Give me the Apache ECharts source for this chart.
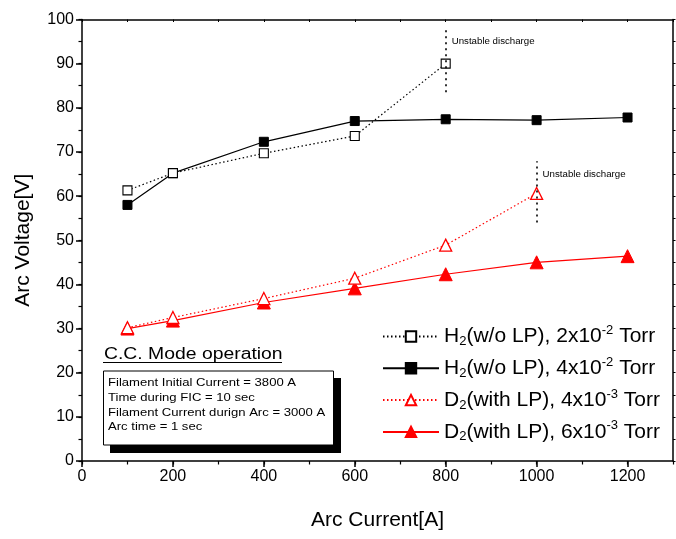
<!DOCTYPE html>
<html>
<head>
<meta charset="utf-8">
<script src="https://cdn.jsdelivr.net/npm/echarts@6/dist/echarts.min.js"></script>
<style>html,body{margin:0;padding:0;background:#fff}#c{width:676px;height:539px}</style>
</head>
<body>
<div id="c"></div>
<script>
// ---- data ----
var xH2a = [100, 200, 400, 600, 800];
var yH2a = [61.3, 65.2, 69.7, 73.6, 90.0];
var xH2b = [100, 200, 400, 600, 800, 1000, 1200];
var yH2b = [58.0, 65.2, 72.3, 77.0, 77.4, 77.2, 77.8];
var xD2a = [100, 200, 400, 600, 800, 1000];
var yD2a = [30.2, 32.5, 36.8, 41.4, 48.9, 60.6];
var xD2b = [100, 200, 400, 600, 800, 1000, 1200];
var yD2b = [30.0, 31.8, 35.9, 39.1, 42.3, 45.0, 46.4];

var seriesNames = [
  'H2(w/o LP), 2x10-2 Torr',
  'H2(w/o LP), 4x10-2 Torr',
  'D2(with LP), 4x10-3 Torr',
  'D2(with LP), 6x10-3 Torr'
];
var legendRichText = [
  '{n|H}{sub|2}{n|(w/o LP), 2x10}{sup|-2}{n| Torr}',
  '{n|H}{sub|2}{n|(w/o LP), 4x10}{sup|-2}{n| Torr}',
  '{n|D}{sub|2}{n|(with LP), 4x10}{sup|-3}{n| Torr}',
  '{n|D}{sub|2}{n|(with LP), 6x10}{sup|-3}{n| Torr}'
];

// "Unstable discharge" annotations
var unstableX = [800, 1000];
var unstableLow = [83.5, 54.0];
var unstableHigh = [97.7, 67.9];
var unstableLabelY = [95.1, 65.0];
var unstableText = 'Unstable discharge';

// info box
var boxTitle = 'C.C. Mode operation';
var boxLines = [
  'Filament Initial Current = 3800 A',
  'Time during FIC = 10 sec',
  'Filament Current durign Arc = 3000 A',
  'Arc time = 1 sec'
];

var xTitle = 'Arc Current[A]';
var yTitle = 'Arc Voltage[V]';
var xMin = 0, xMax = 1300, xMajor = 200, xMinor = 100;
var yMin = 0, yMax = 100, yMajor = 10, yMinor = 5;

// ---- helpers ----
function pairs(xs, ys) { return xs.map(function (x, i) { return [x, ys[i]]; }); }
var FONT = '"Liberation Sans", Arial, sans-serif';

function annotMarkLine(i) {
  return {
    silent: true, symbol: ['none', 'none'],
    lineStyle: { color: '#000', width: 1.6, type: [2, 4] },
    label: { show: false },
    data: [[{ coord: [unstableX[i], unstableLow[i]] }, { coord: [unstableX[i], unstableHigh[i]] }]]
  };
}
function annotMarkPoint(i) {
  return {
    silent: true, symbol: 'circle', symbolSize: 0,
    label: { show: true, position: 'right', distance: 6, formatter: unstableText,
             fontSize: 9.7, fontFamily: FONT, color: '#000' },
    data: [{ coord: [unstableX[i], unstableLabelY[i]] }]
  };
}

var chart = echarts.init(document.getElementById('c'), null, { renderer: 'canvas' });

var gridL = 82, gridT = 19.5, gridR = 3, gridB = 78;

var option = {
  animation: false,
  backgroundColor: '#fff',
  grid: { left: gridL, top: gridT, right: gridR, bottom: gridB, containLabel: false },
  legend: {
    orient: 'vertical', left: 377, top: 319,
    itemWidth: 56, itemHeight: 13, itemGap: 7.8,
    data: seriesNames,
    formatter: function (name) { return legendRichText[seriesNames.indexOf(name)]; },
    textStyle: {
      fontFamily: FONT, fontSize: 21, color: '#000',
      rich: {
        n: { fontFamily: FONT, fontSize: 21, color: '#000' },
        sub: { fontFamily: FONT, fontSize: 13, color: '#000', padding: [10, 0, 0, 0] },
        sup: { fontFamily: FONT, fontSize: 13, color: '#000', padding: [0, 0, 12, 0] }
      }
    }
  },
  xAxis: [
    {
      type: 'value', position: 'bottom', min: xMin, max: xMax, interval: xMajor,
      name: xTitle, nameLocation: 'middle', nameGap: 49,
      nameTextStyle: { fontFamily: FONT, fontSize: 21, color: '#000' },
      axisLine: { show: true, onZero: false, lineStyle: { color: '#000', width: 1.5 } },
      axisTick: { show: true, inside: false, length: 6, lineStyle: { color: '#000', width: 1.5 } },
      axisLabel: { show: true, showMaxLabel: false, margin: 8, fontFamily: FONT, fontSize: 16, color: '#000',
                   formatter: function (v) { return String(v); } },
      splitLine: { show: false }
    },
    {
      type: 'value', position: 'bottom', min: xMin, max: xMax, interval: xMinor,
      axisLine: { show: false, onZero: false },
      axisTick: { show: true, inside: false, length: 3.5, lineStyle: { color: '#000', width: 1.2 } },
      axisLabel: { show: false }, splitLine: { show: false }
    },
    {
      type: 'value', position: 'top', min: xMin, max: xMax, interval: xMinor,
      axisLine: { show: true, onZero: false, lineStyle: { color: '#000', width: 1.5 } },
      axisTick: { show: true, inside: true, length: 2.5, lineStyle: { color: '#000', width: 1 } },
      axisLabel: { show: false }, splitLine: { show: false }
    }
  ],
  yAxis: [
    {
      type: 'value', position: 'left', min: yMin, max: yMax, interval: yMajor,
      name: yTitle, nameLocation: 'middle', nameGap: 48, nameRotate: 90,
      nameTextStyle: { fontFamily: FONT, fontSize: 21, color: '#000' },
      axisLine: { show: true, onZero: false, lineStyle: { color: '#000', width: 1.5 } },
      axisTick: { show: true, inside: false, length: 6, lineStyle: { color: '#000', width: 1.5 } },
      axisLabel: { show: true, margin: 8, fontFamily: FONT, fontSize: 16, color: '#000',
                   formatter: function (v) { return String(v); } },
      splitLine: { show: false }
    },
    {
      type: 'value', position: 'left', min: yMin, max: yMax, interval: yMinor,
      axisLine: { show: false, onZero: false },
      axisTick: { show: true, inside: false, length: 3.5, lineStyle: { color: '#000', width: 1.2 } },
      axisLabel: { show: false }, splitLine: { show: false }
    },
    {
      type: 'value', position: 'right', min: yMin, max: yMax, interval: yMinor,
      axisLine: { show: true, onZero: false, lineStyle: { color: '#000', width: 1.5 } },
      axisTick: { show: true, inside: false, length: 2.5, lineStyle: { color: '#000', width: 1 } },
      axisLabel: { show: false }, splitLine: { show: false }
    }
  ],
  series: [
    {
      name: seriesNames[0], type: 'line', data: pairs(xH2a, yH2a),
      symbol: 'rect', symbolSize: 9,
      itemStyle: { color: '#fff', borderColor: '#000', borderWidth: 1.1 },
      lineStyle: { color: '#000', width: 1.2, type: [1.5, 2.5] },
      markLine: annotMarkLine(0), markPoint: annotMarkPoint(0), z: 3
    },
    {
      name: seriesNames[1], type: 'line', data: pairs(xH2b, yH2b),
      symbol: 'rect', symbolSize: 9,
      itemStyle: { color: '#000', borderColor: '#000', borderWidth: 1 },
      lineStyle: { color: '#000', width: 1.2, type: 'solid' }, z: 2
    },
    {
      name: seriesNames[2], type: 'line', data: pairs(xD2a, yD2a),
      symbol: 'triangle', symbolSize: 12,
      itemStyle: { color: '#fff', borderColor: '#ff0000', borderWidth: 1.3 },
      lineStyle: { color: '#ff0000', width: 1.2, type: [1.5, 2.5] },
      markLine: annotMarkLine(1), markPoint: annotMarkPoint(1), z: 3
    },
    {
      name: seriesNames[3], type: 'line', data: pairs(xD2b, yD2b),
      symbol: 'triangle', symbolSize: 13,
      itemStyle: { color: '#ff0000', borderColor: '#ff0000', borderWidth: 1 },
      lineStyle: { color: '#ff0000', width: 1.2, type: 'solid' }, z: 2
    }
  ],
  graphic: [
    { type: 'rect', silent: true, z: 10, shape: { x: 110, y: 378, width: 231, height: 75 },
      style: { fill: '#000' } },
    { type: 'rect', silent: true, z: 11, shape: { x: 103.5, y: 371, width: 230, height: 74 },
      style: { fill: '#fff', stroke: '#000', lineWidth: 1 } },
    { type: 'text', silent: true, z: 12, x: 104, y: 355, scaleX: 1.21, originX: 0, originY: 0,
      style: { text: boxTitle, fontFamily: FONT, fontSize: 16, fill: '#000', verticalAlign: 'middle', align: 'left' } },
    { type: 'line', silent: true, z: 12, shape: { x1: 103, y1: 362.5, x2: 282, y2: 362.5 },
      style: { stroke: '#000', lineWidth: 1 } }
  ].concat(boxLines.map(function (t, i) {
    return { type: 'text', silent: true, z: 12, x: 108, y: 383 + i * 14.8, scaleX: 1.19, originX: 0, originY: 0,
      style: { text: t, fontFamily: FONT, fontSize: 11, fill: '#000', verticalAlign: 'middle', align: 'left' } };
  }))
};
chart.setOption(option);
</script>
</body>
</html>
